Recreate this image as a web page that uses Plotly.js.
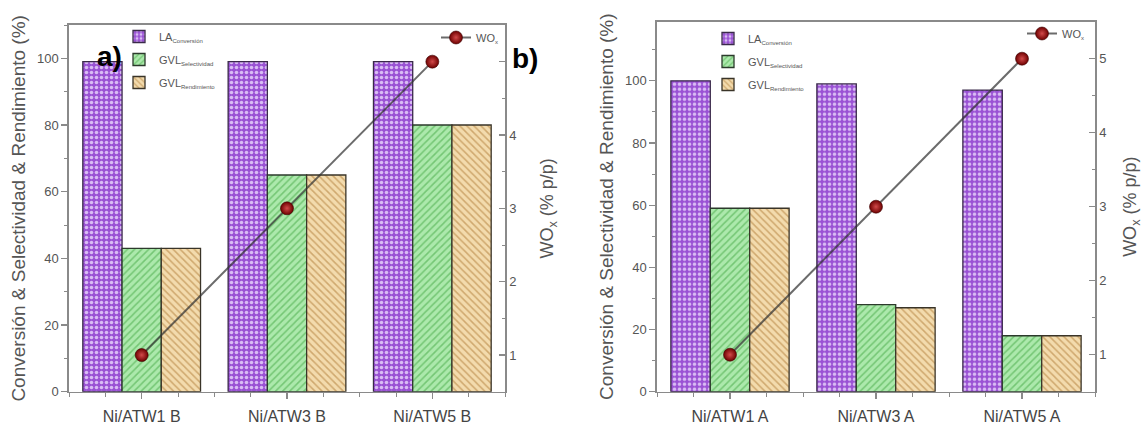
<!DOCTYPE html>
<html>
<head>
<meta charset="utf-8">
<script src="https://cdn.plot.ly/plotly-3.0.1.min.js"></script>
<style>html,body{margin:0;padding:0;background:#fff;}#chart{width:1143px;height:427px;}</style>
</head>
<body>
<div id="chart"></div>
<script>
// ---- data ----
const categoriesB = ['Ni/ATW1 B', 'Ni/ATW3 B', 'Ni/ATW5 B'];
const categoriesA = ['Ni/ATW1 A', 'Ni/ATW3 A', 'Ni/ATW5 A'];
const laConversionB = [99, 99, 99];
const gvlSelectividadB = [43, 65, 80];
const gvlRendimientoB = [43, 65, 80];
const woxB = [1, 3, 5];
const laConversionA = [100, 99, 97];
const gvlSelectividadA = [59, 28, 18];
const gvlRendimientoA = [59, 27, 18];
const woxA = [1, 3, 5];
const leftTicks = [0, 20, 40, 60, 80, 100];
const rightTicks = [1, 2, 3, 4, 5];
const rightTickTextB = ['1', '2', '3', '4', ''];   // "5" hidden under the "b)" label in the original
const rightTickTextA = ['1', '2', '3', '4', '5'];

const W = 1143, H = 427;
const px = v => v / W, py = v => 1 - v / H;
const FONT = 'Liberation Sans, Arial, sans-serif';
const GREY = '#555555';
const AX = '#8a8a8a';

function sub(t) { return '<sub><span style="font-size:6px">' + t + '</span></sub>'; }

function barTraces(cats, la, sel, rend, xa, ya, lg) {
  const xs = cats.map((c, i) => i);
  const common = {type: 'bar', x: xs, xaxis: xa, yaxis: ya, legend: lg, hoverinfo: 'y'};
  return [
    Object.assign({}, common, {y: la, name: 'LA' + sub('Conversión'), legendgroup: lg + 'a',
      marker: {color: '#9d57d6', line: {color: '#3a2a4a', width: 1.3},
        pattern: {shape: '.', bgcolor: '#9a52d4', fgcolor: '#d9bcf4', size: 5, solidity: 0.4, fillmode: 'replace'}}}),
    Object.assign({}, common, {y: sel, name: 'GVL' + sub('Selectividad'), legendgroup: lg + 'b',
      marker: {color: '#a6e6a6', line: {color: '#2c3a2c', width: 1.3},
        pattern: {shape: '/', bgcolor: '#ace9ac', fgcolor: '#74c674', size: 5, solidity: 0.3, fillmode: 'replace'}}}),
    Object.assign({}, common, {y: rend, name: 'GVL' + sub('Rendimiento'), legendgroup: lg + 'c',
      marker: {color: '#f0d6a6', line: {color: '#3a3428', width: 1.3},
        pattern: {shape: '\\', bgcolor: '#f3dbad', fgcolor: '#cfa86e', size: 5, solidity: 0.3, fillmode: 'replace'}}})
  ];
}
function woTrace(cats, wo, xa, ya, lg) {
  return {type: 'scatter', mode: 'lines+markers', x: cats.map((c, i) => i), y: wo,
    xaxis: xa, yaxis: ya, legend: lg, name: 'WO' + sub('x'),
    line: {color: 'rgba(50,50,50,0.72)', width: 2},
    marker: {size: 13, color: '#6e0000', line: {color: '#3a0000', width: 0.6},
      gradient: {type: 'radial', color: '#d24a4a'}}};
}

const data = [].concat(
  barTraces(categoriesB, laConversionB, gvlSelectividadB, gvlRendimientoB, 'x', 'y', 'legend'),
  [woTrace(categoriesB, woxB, 'x', 'y2', 'legend2')],
  barTraces(categoriesA, laConversionA, gvlSelectividadA, gvlRendimientoA, 'x2', 'y3', 'legend3'),
  [woTrace(categoriesA, woxA, 'x2', 'y4', 'legend4')]
);

function xAxis(cats, d0, d1, anchor) {
  return {domain: [px(d0), px(d1)], anchor: anchor, range: [-0.5, 2.5], tickmode: 'array',
    tickvals: cats.map((c, i) => i), ticktext: cats,
    ticks: 'outside', ticklen: 6, tickwidth: 1.3, tickcolor: AX, showline: true, linecolor: AX, linewidth: 1.6,
    mirror: true, showgrid: false, zeroline: false, automargin: false, ticklabelstandoff: 3,
    minor: {dtick: 0.25, tick0: 0, ticks: 'outside', ticklen: 4, tickwidth: 1, tickcolor: AX},
    tickfont: {family: FONT, size: 16, color: '#444'}};
}
function yLeft(d0, d1, rmax, anchor) {
  return {domain: [py(d1), py(d0)], anchor: anchor, range: [0, rmax], tickmode: 'array', tickvals: leftTicks,
    ticks: 'outside', ticklen: 6, tickwidth: 1.3, tickcolor: AX, showline: true, linecolor: AX, linewidth: 1.6,
    showgrid: false, zeroline: false, automargin: false,
    minor: {dtick: 10, tick0: 0, ticks: 'outside', ticklen: 3, tickwidth: 1, tickcolor: AX},
    tickfont: {family: FONT, size: 13, color: GREY},
    title: {text: 'Conversión & Selectividad & Rendimiento (%)', font: {family: FONT, size: 19, color: GREY}, standoff: 6}};
}
function yRight(over, anchor, ticktext, standoff) {
  return {overlaying: over, side: 'right', anchor: anchor, range: [0.5, 5.5], tickmode: 'array',
    tickvals: rightTicks, ticktext: ticktext,
    ticks: 'inside', ticklen: 6, tickwidth: 1.3, tickcolor: AX, showline: true, linecolor: AX, linewidth: 1.6,
    showgrid: false, zeroline: false, automargin: false,
    minor: {dtick: 0.5, tick0: 0, ticks: 'inside', ticklen: 3, tickwidth: 1, tickcolor: AX},
    tickfont: {family: FONT, size: 13, color: GREY},
    title: {text: 'WO<sub>x</sub> (% p/p)', font: {family: FONT, size: 18, color: GREY}, standoff: standoff}};
}
function legendAt(x, y) {
  return {x: px(x), y: py(y), xanchor: 'left', yanchor: 'top', bgcolor: 'rgba(0,0,0,0)', borderwidth: 0,
    font: {family: FONT, size: 11, color: GREY}, traceorder: 'grouped', tracegroupgap: 4, itemclick: false};
}

const layout = {
  width: W, height: H, margin: {l: 0, r: 0, t: 0, b: 0}, paper_bgcolor: '#fff', plot_bgcolor: '#fff',
  barmode: 'group', bargap: 0.19, bargroupgap: 0,
  xaxis: xAxis(categoriesB, 69, 505, 'y'),
  yaxis: yLeft(25, 391.7, 110, 'x'),
  yaxis2: yRight('y', 'x', rightTickTextB, 25),
  xaxis2: xAxis(categoriesA, 657, 1095, 'y3'),
  yaxis3: yLeft(21.7, 391.7, 119, 'x2'),
  yaxis4: yRight('y3', 'x2', rightTickTextA, 20),
  legend: legendAt(119, 22),
  legend2: legendAt(436, 23),
  legend3: legendAt(708, 24),
  legend4: legendAt(1022, 19),
  annotations: [
    {text: '<b>a)</b>', xref: 'paper', yref: 'paper', x: px(109), y: py(56), xanchor: 'center', yanchor: 'middle',
      showarrow: false, font: {family: FONT, size: 28, color: '#000'}},
    {text: '<b>b)</b>', xref: 'paper', yref: 'paper', x: px(525), y: py(59), xanchor: 'center', yanchor: 'middle',
      showarrow: false, font: {family: FONT, size: 28, color: '#000'}}
  ],
  showlegend: true
};

Plotly.newPlot('chart', data, layout, {displayModeBar: false, staticPlot: true});
</script>
</body>
</html>
